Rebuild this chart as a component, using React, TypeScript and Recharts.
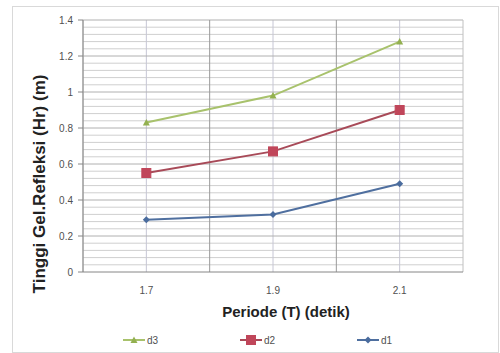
import React from 'react';
import { LineChart, Line, XAxis, YAxis, Legend, Label, ReferenceLine } from 'recharts';

const periods = [1.7, 1.9, 2.1];
const d3 = [0.83, 0.98, 1.28];
const d2 = [0.55, 0.67, 0.9];
const d1 = [0.29, 0.32, 0.49];
const seriesOrder = ['d3', 'd2', 'd1'];

const xTicks = [1.7, 1.9, 2.1];
const xMajorGrid = [1.6, 1.8, 2.0, 2.2];
const xMinorGrid = [1.7, 1.9, 2.1];
const yTicks = [0, 0.2, 0.4, 0.6, 0.8, 1, 1.2, 1.4];
const yMinorGrid = [
  0.04, 0.08, 0.12, 0.16, 0.24, 0.28, 0.32, 0.36, 0.44, 0.48, 0.52, 0.56,
  0.64, 0.68, 0.72, 0.76, 0.84, 0.88, 0.92, 0.96, 1.04, 1.08, 1.12, 1.16,
  1.24, 1.28, 1.32, 1.36,
];

const data = periods.map((t, i) => ({ t, d3: d3[i], d2: d2[i], d1: d1[i] }));

const colors: Record<string, { line: string; fill: string; shape: string }> = {
  d3: { line: '#a8c26c', fill: '#93b050', shape: 'triangle' },
  d2: { line: '#a84a58', fill: '#c0465a', shape: 'square' },
  d1: { line: '#4f6f9f', fill: '#4a6c9e', shape: 'diamond' },
};

function Marker({ cx, cy, k }: { cx: number; cy: number; k: string }) {
  const c = colors[k];
  if (c.shape === 'square') {
    return <rect x={cx - 4.5} y={cy - 4.5} width={9} height={9} fill={c.fill} stroke={c.fill} />;
  }
  if (c.shape === 'triangle') {
    return <polygon points={`${cx},${cy - 3.5} ${cx + 3.5},${cy + 3} ${cx - 3.5},${cy + 3}`} fill={c.fill} />;
  }
  return <polygon points={`${cx},${cy - 3.5} ${cx + 3.5},${cy} ${cx},${cy + 3.5} ${cx - 3.5},${cy}`} fill={c.fill} />;
}

const makeDot = (k: string) => (props: any) => {
  const { cx, cy, index } = props;
  if (cx == null || cy == null) return <g key={index} />;
  return <Marker key={index} cx={cx} cy={cy} k={k} />;
};

const renderLegend = (props: any) => {
  const payload = [...(props.payload || [])].sort(
    (a: any, b: any) => seriesOrder.indexOf(a.dataKey) - seriesOrder.indexOf(b.dataKey)
  );
  return (
    <div style={{ display: 'flex', paddingLeft: 123, height: 24, alignItems: 'center' }}>
      {payload.map((entry: any) => (
        <div key={entry.value} style={{ width: 117, display: 'flex', alignItems: 'center' }}>
          <svg width={22} height={10}>
            <line x1={0} y1={5} x2={22} y2={5} stroke={colors[entry.dataKey].line} strokeWidth={2} />
            <Marker cx={11} cy={5} k={entry.dataKey} />
          </svg>
          <span style={{ fontSize: 10, color: '#505050', marginLeft: 2 }}>{entry.value}</span>
        </div>
      ))}
    </div>
  );
};

export default function App() {
  return (
    <div style={{ position: 'absolute', left: 0, top: 0, width: 500, height: 353, background: '#fff', fontFamily: '"Liberation Sans", Arial, sans-serif' }}>
      <div style={{ position: 'absolute', left: 12, top: 6, width: 485, height: 345, border: '1px solid #d9d9d9' }} />
      <LineChart width={500} height={353} data={data} margin={{ top: 20, right: 37, left: 0, bottom: 1 }}>
        <XAxis
          xAxisId="main"
          dataKey="t"
          type="number"
          domain={[1.6, 2.2]}
          ticks={xTicks}
          interval={0}
          height={56}
          tickLine={false}
          tickSize={0}
          tickMargin={15}
          stroke="#868686"
          tick={{ fontSize: 10, fill: '#505050' }}
        >
          <Label
            content={() => (
              <text x={286} y={317} textAnchor="middle" fontSize={15} fontWeight="bold" fill="#222">
                Periode (T) (detik)
              </text>
            )}
          />
        </XAxis>
        <YAxis
          yAxisId="main"
          type="number"
          domain={[0, 1.4]}
          ticks={yTicks}
          interval={0}
          width={83}
          tickSize={5}
          tickMargin={5}
          stroke="#868686"
          tick={{ fontSize: 10, fill: '#505050' }}
        >
          <Label
            content={() => (
              <text transform="translate(45,184) rotate(-90)" textAnchor="middle" fontSize={17} fontWeight="bold" fill="#222">
                Tinggi Gel.Refleksi (Hr) (m)
              </text>
            )}
          />
        </YAxis>
        {/* minor gridlines */}
        {yMinorGrid.map((v) => (
          <ReferenceLine key={'ym' + v} xAxisId="main" yAxisId="main" y={v} stroke="#cfcfcf" />
        ))}
        {xMinorGrid.map((v) => (
          <ReferenceLine key={'xm' + v} xAxisId="main" yAxisId="main" x={v} stroke="#c6c6d4" />
        ))}
        {/* major gridlines */}
        {yTicks.slice(1).map((v) => (
          <ReferenceLine key={'y' + v} xAxisId="main" yAxisId="main" y={v} stroke="#b0b0b0" />
        ))}
        {xMajorGrid.map((v) => (
          <ReferenceLine key={'x' + v} xAxisId="main" yAxisId="main" x={v} stroke={v === 1.8 || v === 2.0 ? '#9a9a9a' : '#c0c0c0'} />
        ))}
        <Legend
          verticalAlign="bottom"
          height={24}
          content={renderLegend}
          wrapperStyle={{ left: 0, width: 500 }}
        />
        <Line xAxisId="main" yAxisId="main" dataKey="d3" name="d3" stroke={colors.d3.line} strokeWidth={2} dot={makeDot('d3')} isAnimationActive={false} />
        <Line xAxisId="main" yAxisId="main" dataKey="d2" name="d2" stroke={colors.d2.line} strokeWidth={2} dot={makeDot('d2')} isAnimationActive={false} />
        <Line xAxisId="main" yAxisId="main" dataKey="d1" name="d1" stroke={colors.d1.line} strokeWidth={2} dot={makeDot('d1')} isAnimationActive={false} />
      </LineChart>
    </div>
  );
}
